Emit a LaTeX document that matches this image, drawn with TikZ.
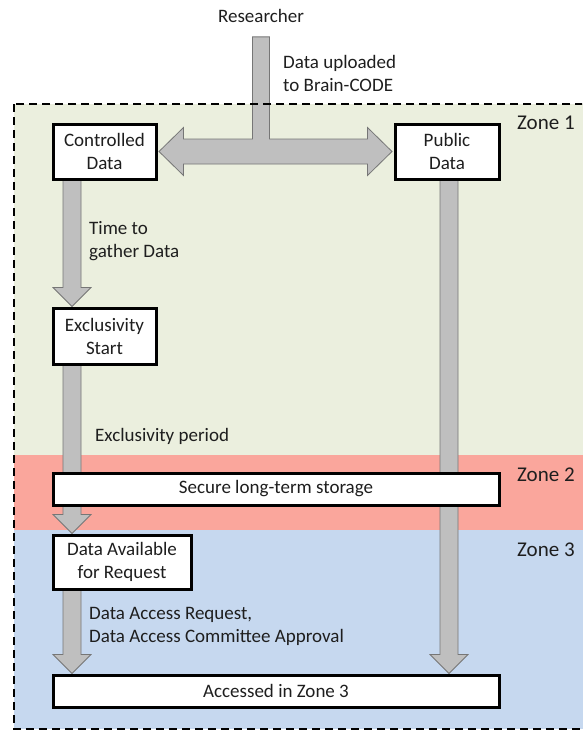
\documentclass[tikz,border=0pt]{standalone}
\usepackage{fontspec}
\setmainfont{Carlito}
\usetikzlibrary{positioning,calc}
\definecolor{zonegreen}{RGB}{235,239,222}
\definecolor{zonered}{RGB}{250,166,156}
\definecolor{zoneblue}{RGB}{198,216,239}
\definecolor{arrowgray}{RGB}{191,191,191}
\definecolor{arrowedge}{RGB}{118,118,118}
\definecolor{inkgray}{RGB}{30,30,30}
\pgfdeclarelayer{zones}
\pgfdeclarelayer{arrows}
\pgfsetlayers{zones,arrows,main}
\tikzset{
  box/.style={rectangle, draw=black, line width=3pt, fill=white, align=center,
              inner sep=0pt, anchor=north west, text=inkgray, font=\fontsize{19}{23}\selectfont},
  notetext/.style={anchor=west, align=left, inner sep=0pt, text=inkgray, font=\fontsize{19}{23}\selectfont},
  zonelabel/.style={anchor=west, inner sep=0pt, text=inkgray, font=\fontsize{21}{25}\selectfont},
  fatarrow/.style={fill=arrowgray, draw=arrowedge, line width=0.8pt, line join=miter},
  zoneframe/.style={draw=black, line width=2pt, dash pattern=on 8pt off 5pt},
}
% block arrow pointing down, from #1 to the height of #2
\newcommand{\fatdown}[2]{%
  \path[fatarrow] let \p1=(#1), \p2=(#2) in
    (\x1-9pt,\y1) -- (\x1-9pt,\y2+19pt) -- (\x1-19pt,\y2+19pt) -- (\x1,\y2)
    -- (\x1+19pt,\y2+19pt) -- (\x1+9pt,\y2+19pt) -- (\x1+9pt,\y1) -- cycle;}

\begin{document}
\begin{tikzpicture}[x=1pt, y=-1pt]
\useasboundingbox (0,0) rectangle (582,731);
\clip (0,0) rectangle (582,731);

\begin{pgfonlayer}{zones}
\fill[zonegreen] (14,104) rectangle (600,455);
\fill[zonered] (14,455) rectangle (600,530);
\fill[zoneblue] (14,530) rectangle (600,729);
\end{pgfonlayer}

\node[notetext, anchor=center] (res) at (261,16) {Researcher};
\node[box, minimum width=103pt, minimum height=55pt] (cd) at (51.5,122.5) {Controlled\\Data};
\node[box, minimum width=104pt, minimum height=55pt] (pd) at (393.5,122.5) {Public\\Data};
\node[box, minimum width=103pt, minimum height=56pt] (es) at (51.5,306.5) {Exclusivity\\Start};
\node[box, minimum width=446pt, minimum height=32pt] (sls) at (51.5,471.5) {Secure long-term storage};
\node[box, minimum width=138pt, minimum height=54pt] (da) at (51.5,533.5) {Data Available\\for Request};
\node[box, minimum width=446pt, minimum height=32pt] (acc) at (51.5,673.5) {Accessed in Zone 3};

\begin{pgfonlayer}{arrows}
% upload: T-shaped double arrow
\path[fatarrow] let \p1=($(res.south)+(0,14)$), \p2=(cd.east), \p3=(pd.west) in
  (\x1-8.5pt,\y1) -- (\x1-8.5pt,\y2+12.5pt) -- (\x2+26pt,\y2+12.5pt) -- (\x2+26pt,\y2+24pt)
  -- (\x2+1.5pt,\y2) -- (\x2+26pt,\y2-24pt) -- (\x2+26pt,\y2-12.5pt) -- (\x3-26pt,\y2-12.5pt)
  -- (\x3-26pt,\y2-24pt) -- (\x3-1.5pt,\y2) -- (\x3-26pt,\y2+24pt) -- (\x3-26pt,\y2+12.5pt)
  -- (\x1+8.5pt,\y2+12.5pt) -- (\x1+8.5pt,\y1) -- cycle;
\foreach \a/\b in {cd/es, es/da, da/acc}
  \fatdown{$(\a.south west)+(20.5,0)$}{\b.north};
\fatdown{$(pd.south)+(2,0)$}{acc.north};
\end{pgfonlayer}

\node[notetext] (upl) at (283,73) {Data uploaded\\to Brain-CODE};
\node[notetext] (tgd) at (89,241.5) {Time to\\gather Data};
\node[notetext] (exp) at (95,436) {Exclusivity period};
\node[notetext] (dar) at (89,626) {Data Access Request,\\Data Access Committee Approval};

\node[zonelabel] (z1) at (517,123) {Zone 1};
\node[zonelabel] (z2) at (517,475) {Zone 2};
\node[zonelabel] (z3) at (517,550) {Zone 3};

\draw[zoneframe] (14,104) rectangle (590,729);
\end{tikzpicture}
\end{document}
